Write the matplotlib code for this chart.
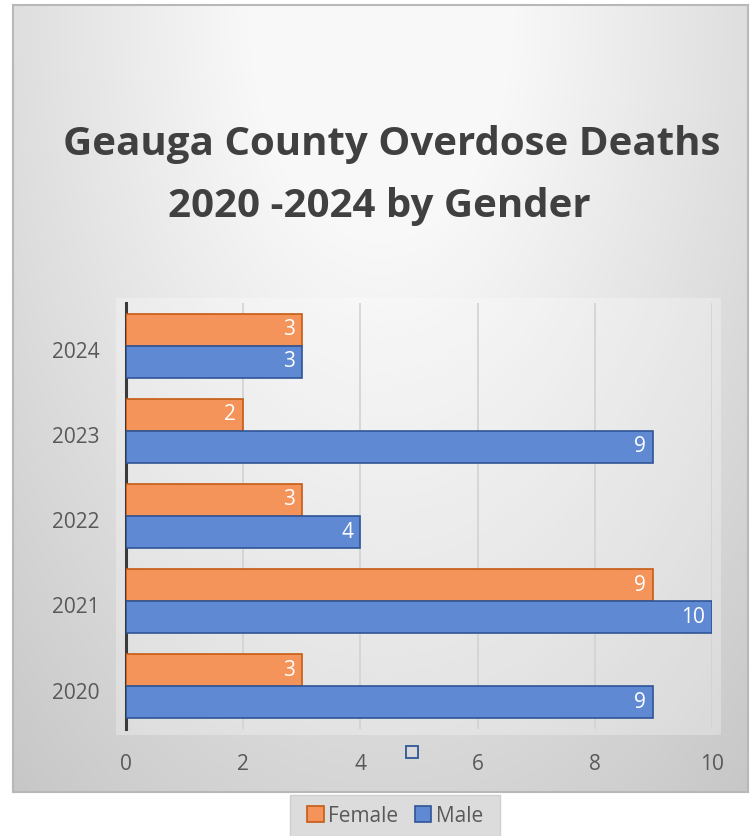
import numpy as np
import matplotlib.pyplot as plt
import matplotlib.transforms as mtransforms
from matplotlib.patches import Rectangle

# ---- data ----
years = ["2020", "2021", "2022", "2023", "2024"]
female = [3, 9, 3, 2, 3]
male = [9, 10, 4, 9, 3]
title = "Geauga County Overdose Deaths\n2020 -2024 by Gender"

ORANGE = "#f4945a"
ORANGE_EDGE = "#c65b14"
BLUE = "#5f8ad3"
BLUE_EDGE = "#2f5597"
TXT = "#595959"
FONT = "Open Sans"

W, H = 751, 836
fig = plt.figure(figsize=(W / 100, H / 100), dpi=100)

def fx(px):
    return px / W

def fy(py):
    return 1 - py / H

# background frame with radial gradient
bg = fig.add_axes([fx(13), fy(792), fx(748) - fx(13), fy(5) - fy(792)])
yy, xx = np.mgrid[0:400, 0:400]
r = np.hypot((xx - 200) / 200.0, (yy - 0) / 330.0)
shade = np.clip(0.975 - 0.16 * np.clip(r - 0.35, 0, None), 0.76, 0.975)
bg.imshow(np.dstack([shade] * 3), aspect="auto", extent=[0, 1, 0, 1], origin="upper")
bg.set_xlim(0, 1)
bg.set_ylim(0, 1)
bg.set_xticks([])
bg.set_yticks([])
for s in bg.spines.values():
    s.set_color("#b8b8b8")
    s.set_linewidth(1.5)

# lighter plot panel
fig.patches.append(Rectangle((fx(116), fy(735)), fx(721) - fx(116), fy(298) - fy(735),
                             transform=fig.transFigure, facecolor="white", alpha=0.28,
                             edgecolor="none", zorder=1))

fig.text(fx(392), fy(144), "Geauga County Overdose Deaths", ha="center", va="center",
         fontsize=29, fontweight="bold", color="#404040", family=FONT)
fig.text(fx(379), fy(206), "2020 -2024 by Gender", ha="center", va="center",
         fontsize=29, fontweight="bold", color="#404040", family=FONT)

ax = fig.add_axes([fx(126), fy(729), fx(712) - fx(126), fy(303) - fy(729)])
ax.set_facecolor("none")
ax.set_zorder(3)

y = np.arange(len(years))
h = 0.376
bf = ax.barh(y + h / 2, female, height=h, color=ORANGE, edgecolor=ORANGE_EDGE,
             linewidth=1.2, label="Female", zorder=3)
bm = ax.barh(y - h / 2, male, height=h, color=BLUE, edgecolor=BLUE_EDGE,
             linewidth=1.2, label="Male", zorder=3)

for bars, vals in [(bf, female), (bm, male)]:
    for b, v in zip(bars, vals):
        ax.text(v - 0.12, b.get_y() + b.get_height() / 2, str(v), ha="right", va="center",
                color="white", fontsize=15, family=FONT, zorder=4)

ax.set_xlim(0, 10)
ax.set_ylim(-0.5, len(years) - 0.5)
ax.set_xticks(range(0, 11, 2))
ax.set_yticks(y)
ax.set_yticklabels(years)
ax.tick_params(axis="both", length=0, labelsize=15, labelcolor=TXT)
ax.tick_params(axis="x", pad=18)
ax.tick_params(axis="y", pad=19)
shift = mtransforms.ScaledTranslation(0, -3 / 72, fig.dpi_scale_trans)
for lab in ax.get_yticklabels():
    lab.set_transform(lab.get_transform() + shift)
for lab in ax.get_xticklabels() + ax.get_yticklabels():
    lab.set_family(FONT)
ax.grid(axis="x", color="#d2d2d2", linewidth=1.2, zorder=0)
for s in ["top", "right", "bottom"]:
    ax.spines[s].set_visible(False)
ax.spines["left"].set_color("#3a3a3a")
ax.spines["left"].set_linewidth(2.2)

# stray marker below the axis
fig.add_artist(plt.Line2D([fx(412)], [fy(752)], marker="s", markersize=9,
                          markerfacecolor="none", markeredgecolor=BLUE_EDGE,
                          markeredgewidth=1.3, transform=fig.transFigure))

# legend box below the frame
fig.patches.append(Rectangle((fx(290), fy(836)), fx(500) - fx(290), fy(795) - fy(836),
                             transform=fig.transFigure, facecolor="#dcdcdc",
                             edgecolor="#cfcfcf", linewidth=1, zorder=1))
leg = fig.legend(handles=[bf, bm], loc="center", bbox_to_anchor=(fx(395), fy(816)),
                 ncol=2, frameon=False, handlelength=0.8, handleheight=0.8,
                 handletextpad=0.2, columnspacing=0.8, borderpad=0,
                 prop={"family": FONT, "size": 15})
for t in leg.get_texts():
    t.set_color(TXT)

fig.savefig("out.png", dpi=100)
